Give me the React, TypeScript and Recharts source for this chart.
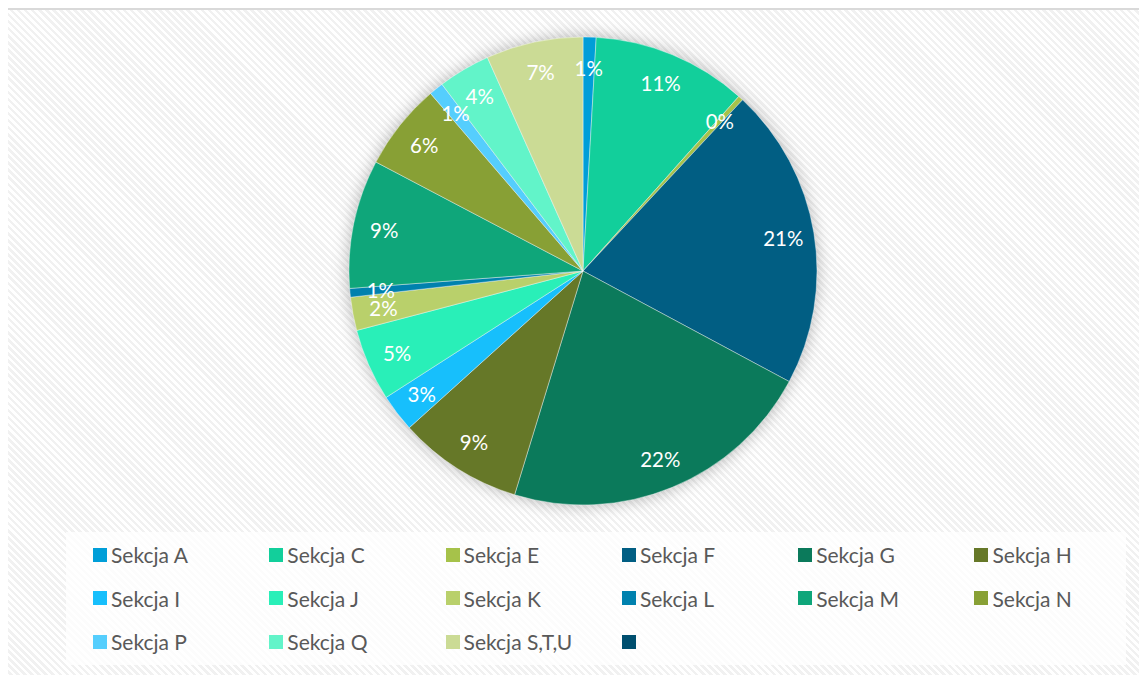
import { PieChart, Pie, Cell } from 'recharts';

const sections = ['Sekcja A', 'Sekcja C', 'Sekcja E', 'Sekcja F', 'Sekcja G', 'Sekcja H', 'Sekcja I', 'Sekcja J', 'Sekcja K', 'Sekcja L', 'Sekcja M', 'Sekcja N', 'Sekcja P', 'Sekcja Q', 'Sekcja S,T,U'];
const shares = [0.9, 10.7, 0.35, 20.9, 21.9, 8.6, 2.6, 5.0, 2.3, 0.6, 8.9, 6.0, 1.0, 3.6, 6.7];
const colors = ['#009ed8', '#12cf9b', '#a6c24a', '#015e83', '#0b7a5b', '#667828', '#17bffc', '#29efb8', '#b9d06b', '#0081ae', '#0fa67a', '#88a035', '#55cefd', '#62f4c9', '#cbdb95'];

// legend has one extra, unnamed entry
const legendNames = [...sections, ''];
const legendColors = [...colors, '#004f6f'];

const pieData = sections.map((name, i) => ({ name, value: shares[i] }));

const RAD = Math.PI / 180;

function renderLabel(props: any) {
  const { cx, cy, midAngle, outerRadius, percent } = props;
  const r = outerRadius - 31;
  const x = cx + r * Math.cos(-midAngle * RAD);
  const y = cy + r * Math.sin(-midAngle * RAD);
  return (
    <text x={x} y={y} fill="#ffffff" fontSize={20.5} fontFamily="Lato, 'Open Sans', sans-serif" textAnchor="middle" dominantBaseline="central">
      {`${Math.round(percent * 100)}%`}
    </text>
  );
}

export default function App() {
  return (
    <div
      style={{
        position: 'relative',
        width: 1141,
        height: 667,
        marginLeft: -2,
        borderLeft: '2px solid #d9d9d9',
        borderTop: '2px solid #d9d9d9',
        overflow: 'hidden',
        background: 'repeating-linear-gradient(45deg, #ffffff 0px, #ffffff 2.5px, #f1f1f1 2.5px, #f1f1f1 5px)',
      }}
    >
      <style>{'.recharts-pie { filter: drop-shadow(0 0 8px rgba(0,0,0,0.28)); }'}</style>
      <div style={{ position: 'absolute', left: 0, top: 0 }}>
        <PieChart width={1139} height={520}>
          <Pie
            data={pieData}
            dataKey="value"
            nameKey="name"
            cx={570}
            cy={256}
            outerRadius={234}
            startAngle={90}
            endAngle={-270}
            stroke="#ffffff"
            strokeWidth={0.4}
            label={renderLabel}
            labelLine={false}
            isAnimationActive={false}
          >
            {pieData.map((_, i) => (
              <Cell key={i} fill={colors[i]} />
            ))}
          </Pie>
        </PieChart>
      </div>

      <div
        style={{
          position: 'absolute',
          left: 58,
          top: 522,
          width: 1060,
          height: 133,
          background: 'rgba(255,255,255,0.8)',
          boxSizing: 'border-box',
          paddingLeft: 27,
          paddingTop: 1,
          display: 'grid',
          gridTemplateColumns: 'repeat(6, 176.3px)',
          gridAutoRows: '43.5px',
          fontFamily: "Lato, 'Open Sans', sans-serif",
          fontSize: 21,
          color: '#595959',
        }}
      >
        {legendNames.map((name, i) => (
          <div key={i} style={{ display: 'flex', alignItems: 'center', whiteSpace: 'nowrap' }}>
            <span style={{ width: 14, height: 14, background: legendColors[i], marginRight: 4, flexShrink: 0 }} />
            <span>{name}</span>
          </div>
        ))}
      </div>
    </div>
  );
}
